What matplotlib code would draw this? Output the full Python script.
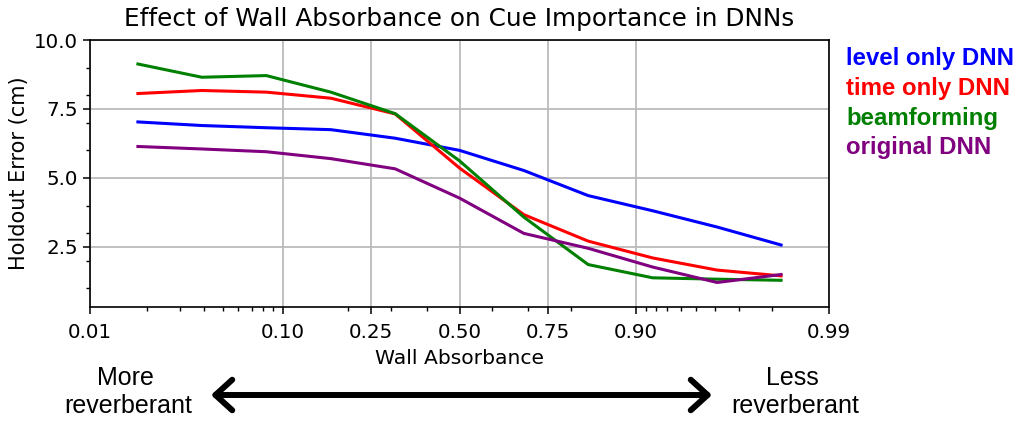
import matplotlib
matplotlib.use("Agg")
import matplotlib.pyplot as plt
from matplotlib.ticker import MultipleLocator, NullFormatter, FixedLocator, FixedFormatter

# ---- data ----
absorbance = [0.018, 0.039, 0.083, 0.168, 0.31, 0.5, 0.69, 0.832, 0.917, 0.961, 0.982]
level_only = [7.03, 6.90, 6.82, 6.75, 6.44, 6.00, 5.27, 4.36, 3.81, 3.22, 2.57]
time_only = [8.06, 8.17, 8.11, 7.89, 7.32, 5.36, 3.67, 2.71, 2.10, 1.66, 1.45]
beamforming = [9.13, 8.65, 8.71, 8.11, 7.33, 5.62, 3.58, 1.86, 1.38, 1.33, 1.29]
original = [6.14, 6.05, 5.95, 5.70, 5.33, 4.27, 2.99, 2.45, 1.77, 1.21, 1.50]

series_names = ["level only DNN", "time only DNN", "beamforming", "original DNN"]
series_colors = ["blue", "red", "green", "purple"]
series_values = [level_only, time_only, beamforming, original]

xtick_vals = [0.01, 0.10, 0.25, 0.50, 0.75, 0.90, 0.99]
xtick_labels = ["0.01", "0.10", "0.25", "0.50", "0.75", "0.90", "0.99"]
ytick_vals = [2.5, 5.0, 7.5, 10.0]

W, H = 1021, 421
fig = plt.figure(figsize=(W / 100, H / 100), dpi=100)
ax = fig.add_axes([90 / W, 1 - 306.5 / H, (829 - 90) / W, (306.5 - 40) / H])

for vals, c in zip(series_values, series_colors):
    ax.plot(absorbance, vals, color=c, lw=2.2)

ax.set_xscale("logit")
ax.set_xlim(0.01, 0.99)
ax.xaxis.set_major_locator(FixedLocator(xtick_vals))
ax.xaxis.set_major_formatter(FixedFormatter(xtick_labels))
ax.xaxis.set_minor_formatter(NullFormatter())

ax.set_ylim(0.34, 10.0)
ax.set_yticks(ytick_vals)
ax.set_yticklabels([f"{v:.1f}" for v in ytick_vals])
ax.yaxis.set_minor_locator(MultipleLocator(1.0))

ax.grid(True, which="major", color="#bbbbbb", lw=1.3)
ax.set_axisbelow(True)
for s in ax.spines.values():
    s.set_linewidth(1.2)
ax.tick_params(axis="both", which="major", labelsize=14.3, length=5, width=1.1)
ax.tick_params(axis="x", which="major", pad=7)
ax.tick_params(axis="both", which="minor", length=3, width=1.0)

ax.set_xlabel("Wall Absorbance", fontsize=14.6, labelpad=5)
ax.set_ylabel("Holdout Error (cm)", fontsize=15)
ax.set_title("Effect of Wall Absorbance on Cue Importance in DNNs", fontsize=17.8, pad=10)

# legend-like coloured labels
baselines = [65, 94.5, 124.5, 154]
for name, c, b in zip(series_names, series_colors, baselines):
    fig.text(846 / W, 1 - b / H, name, color=c, fontsize=17.3, fontweight="bold",
             family=["Liberation Sans", "DejaVu Sans"], ha="left", va="baseline")

# reverberation annotation
for txt, x, b in [("More", 125, 385), ("reverberant", 128, 413),
                  ("Less", 792, 385), ("reverberant", 795, 413)]:
    fig.text(x / W, 1 - b / H, txt, fontsize=18, family=["Liberation Sans", "DejaVu Sans"],
             ha="center", va="baseline")

ax.annotate("", xy=(211 / W, 1 - 395 / H), xytext=(712 / W, 1 - 395 / H),
            xycoords="figure fraction", textcoords="figure fraction",
            arrowprops=dict(arrowstyle="<->,head_length=0.55,head_width=0.5",
                            lw=4.3, color="black", mutation_scale=22,
                            shrinkA=0, shrinkB=0))

fig.savefig("out.png", dpi=100)
